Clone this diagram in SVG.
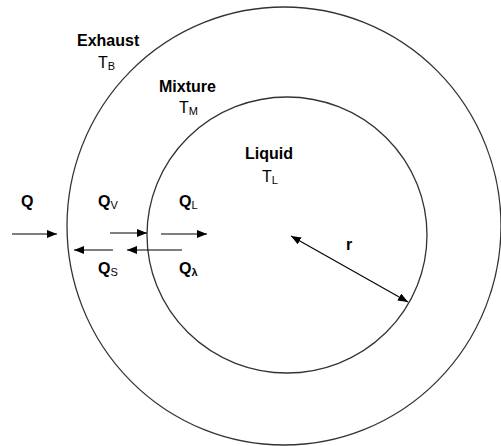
<svg xmlns="http://www.w3.org/2000/svg" width="501" height="446" viewBox="0 0 501 446">
<style>
.ring{fill:none;stroke:#333;stroke-width:1.3}
.arr{stroke:#000;stroke-width:1.1;fill:none}
text{font-family:"Liberation Sans",Arial,sans-serif;fill:#000}
.lb{font-size:16px;font-weight:bold}
.t{font-size:16px}
.sub{font-size:11px}
</style>
<defs>
<marker id="ah" viewBox="0 0 10 8" refX="10" refY="4" markerWidth="10" markerHeight="8" markerUnits="userSpaceOnUse" orient="auto-start-reverse">
<path d="M0,0 L10,4 L0,8 z" fill="#000"/>
</marker>
</defs>
<rect width="501" height="446" fill="#fff"/>
<g id="exhaust">
<ellipse class="ring" cx="284" cy="226" rx="217" ry="219"/>
<text class="lb" x="77" y="46">Exhaust</text>
<text class="t" x="98" y="68">T<tspan class="sub" dy="2">B</tspan></text>
</g>
<g id="mixture">
<ellipse class="ring" cx="287" cy="235" rx="140" ry="138"/>
<text class="lb" x="159" y="92">Mixture</text>
<text class="t" x="179" y="113">T<tspan class="sub" dy="2">M</tspan></text>
</g>
<g id="liquid">
<text class="lb" x="245" y="159">Liquid</text>
<text class="t" x="262" y="182">T<tspan class="sub" dy="2">L</tspan></text>
</g>
<g id="connectors">
<line class="arr" x1="12" y1="234" x2="57" y2="234" marker-end="url(#ah)"/>
<line class="arr" x1="110" y1="233" x2="147" y2="233" marker-end="url(#ah)"/>
<line class="arr" x1="161" y1="234" x2="207" y2="234" marker-end="url(#ah)"/>
<line class="arr" x1="113" y1="250" x2="74" y2="250" marker-end="url(#ah)"/>
<line class="arr" x1="182" y1="250" x2="127" y2="250" marker-end="url(#ah)"/>
<line class="arr" x1="291" y1="236" x2="408" y2="302" marker-start="url(#ah)" marker-end="url(#ah)"/>
</g>
<g id="labels">
<text class="lb" x="21" y="207">Q</text>
<text class="lb" x="98" y="207">Q<tspan class="sub" font-weight="normal" dy="2">V</tspan></text>
<text class="lb" x="179" y="207">Q<tspan class="sub" font-weight="normal" dy="2">L</tspan></text>
<text class="lb" x="98" y="274">Q<tspan class="sub" font-weight="normal" dy="2">S</tspan></text>
<text class="lb" x="179" y="274">Q<tspan class="sub" font-weight="bold" dy="2">λ</tspan></text>
<text class="lb" x="346" y="250">r</text>
</g>
</svg>
